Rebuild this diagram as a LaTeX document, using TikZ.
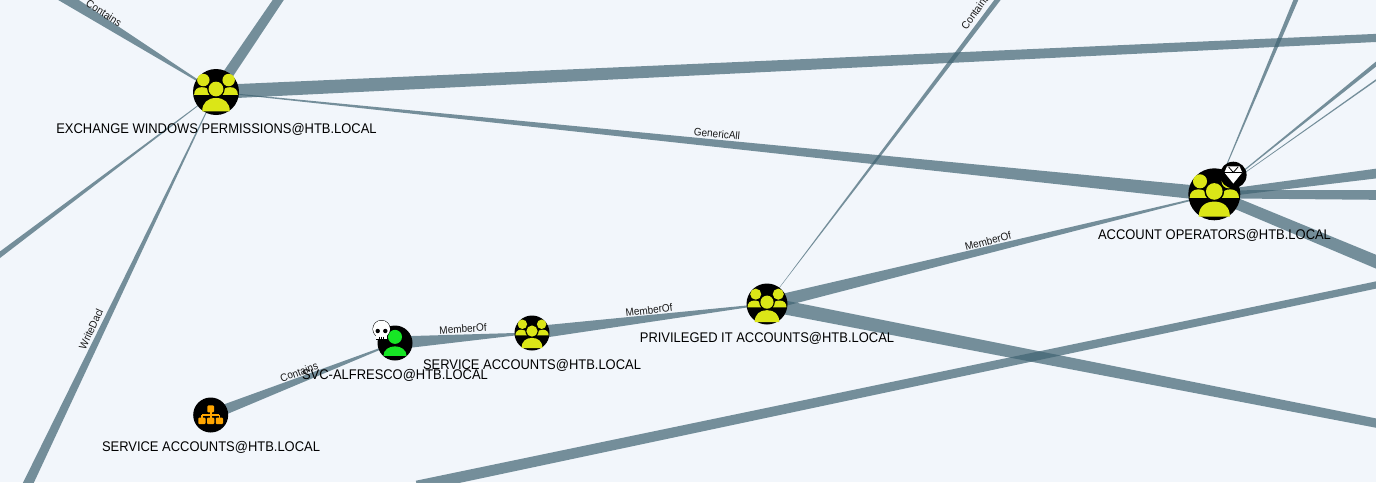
\documentclass[tikz,border=0pt]{standalone}
\usepackage{fontspec}
\setmainfont[FakeStretch=0.925]{Liberation Sans}
\usetikzlibrary{calc}
\definecolor{bgc}{HTML}{F2F6FB}
\definecolor{edgec}{HTML}{416473}
\definecolor{grpy}{HTML}{DBE617}
\definecolor{usrg}{HTML}{17E625}
\definecolor{orgo}{HTML}{FFA500}
\pgfdeclarelayer{edges}
\pgfdeclarelayer{paper}
\pgfsetlayers{paper,edges,main}
\tikzset{
  entity/.style={circle,fill=black,inner sep=0pt,outer sep=0pt,minimum size=#1},
  badge/.style={circle,fill=black,inner sep=0pt,outer sep=0pt,minimum size=#1},
  edgefill/.style={fill=edgec,fill opacity=0.71,draw=none},
  nodelabel/.style={inner sep=0pt,font=\fontsize{14}{16}\selectfont,text=black},
  edgelabel/.style={inner sep=0pt,font=\fontsize{10.8}{12}\selectfont,text=black!90}
}
\newcommand{\taper}[4]{\fill[edgefill] ($(#1)!#3pt!90:(#2)$) -- ($(#1)!#3pt!-90:(#2)$) -- ($(#2)!#4pt!90:(#1)$) -- ($(#2)!#4pt!-90:(#1)$) -- cycle;}
% #1 node, #2 radius, #3 vertical offset of the glyph (in radii)
\newcommand{\groupicon}[3]{%
  \begin{scope}[shift={(#1)},x=#2pt,y=-#2pt,yshift=-#3*#2pt,fill=grpy]
    \fill (-.55,-.68) circle (.27);
    \fill (.55,-.68) circle (.27);
    \fill (-.95,-.04) .. controls (-.95,-.25) and (-.82,-.37) .. (-.62,-.37) .. controls (-.45,-.37) and (-.33,-.3) .. (-.28,-.2) -- (-.28,-.04) -- cycle;
    \fill (.95,-.04) .. controls (.95,-.25) and (.82,-.37) .. (.62,-.37) .. controls (.45,-.37) and (.33,-.3) .. (.28,-.2) -- (.28,-.04) -- cycle;
    \fill[black] (0,-.29) circle (.38);
    \fill (0,-.29) circle (.32);
    \fill (-.6,.68) .. controls (-.6,.3) and (-.35,.10) .. (0,.10) .. controls (.35,.10) and (.6,.3) .. (.6,.68) -- cycle;
  \end{scope}}
\begin{document}
\begin{tikzpicture}[x=1pt,y=-1pt]
\useasboundingbox (0,0) rectangle (1376,482);
% entities
\node[entity=46pt] (ex) at (216,92) {};
\node[entity=52pt] (ao) at (1214.3,194.3) {};
\node[entity=41pt] (pr) at (767,304) {};
\node[entity=35pt] (sa) at (532,333) {};
\node[entity=35pt] (sv) at (395,343) {};
\node[entity=35pt] (ou) at (210.7,415) {};
% free ends
\coordinate (e1) at (53,-10);
\coordinate (e2) at (285,-10);
\coordinate (e3) at (1396,37);
\coordinate (e5) at (-15,266);
\coordinate (e6) at (24,492);
\coordinate (e7) at (1005,-10);
\coordinate (e9) at (1396,427);
\coordinate (e13a) at (417,486.2);
\coordinate (e13b) at (1396,280.8);
\coordinate (e14) at (1396,171);
\coordinate (e15) at (1396,195);
\coordinate (e16) at (1396,270);
\coordinate (e17) at (1300,-10);
\coordinate (e18) at (1396,48);
\coordinate (e19) at (1396,66);
\begin{pgfonlayer}{paper}
  \fill[bgc] (0,0) rectangle (1376,482);
\end{pgfonlayer}
\begin{pgfonlayer}{edges}
  \taper{ex}{e1}{0.3}{6}
  \taper{ex}{e2}{5.5}{4.5}
  \taper{ex}{e3}{7}{4}
  \taper{ex}{ao}{0.3}{7}
  \taper{ex}{e5}{0.2}{2.8}
  \taper{ex}{e6}{0.2}{5}
  \taper{pr}{e7}{0.05}{2.6}
  \taper{pr}{ao}{6.5}{0.5}
  \taper{pr}{e9}{7}{4.5}
  \taper{sa}{pr}{6.5}{0.5}
  \taper{sv}{sa}{6.5}{0.5}
  \taper{ou}{sv}{5.5}{0.5}
  \taper{e13a}{e13b}{5.6}{3.5}
  \taper{ao}{e14}{3.5}{5}
  \taper{ao}{e15}{4}{5}
  \taper{ao}{e16}{5.5}{6.5}
  \taper{ao}{e17}{0.1}{2.4}
  \taper{ao}{e18}{0.2}{2.2}
  \taper{ao}{e19}{0.2}{0.8}
\end{pgfonlayer}
% icons
\groupicon{ex}{23}{.16}
\groupicon{ao}{26}{.18}
\groupicon{pr}{20.5}{.2}
\groupicon{sa}{17.5}{.18}
% user + skull
\begin{scope}[shift={(sv)},x=17.5pt,y=-17.5pt]
  \fill[usrg] (0,-.35) circle (.40);
  \fill[usrg] (-.66,.73) .. controls (-.66,.4) and (-.35,.19) .. (0,.19) .. controls (.35,.19) and (.66,.4) .. (.66,.73) -- cycle;
\end{scope}
\node[badge=18pt] (skull) at (381.5,329) {};
\fill[black] (375.6,333) rectangle (387.4,340);
\fill[white] (381.5,329) circle (8.5);
\fill[white] (376.4,333) rectangle (386.6,339.4);
\fill[black] (377.7,331) circle (2.2);
\fill[black] (385.3,331) circle (2.2);
\draw[black,line width=0.6pt] (379.6,336.5) -- (379.6,339.6) (381.5,336.5) -- (381.5,339.6) (383.4,336.5) -- (383.4,339.6);
% gem badge
\node[badge=26.6pt] (gem) at (1233.3,175) {};
\fill[white] (1227,166.3) -- (1239.6,166.3) -- (1242.2,172.5) -- (1233.3,183.5) -- (1224.4,172.5) -- cycle;
\draw[black,line width=0.8pt] (1224.4,172.6) -- (1242.2,172.6);
\draw[black,line width=0.8pt] (1228.6,167) -- (1233.3,172.4) -- (1238,167);
% org icon
\begin{scope}[shift={(ou)},x=17.5pt,y=-17.5pt]
  \fill[orgo,rounded corners=1pt] (-.19,-.55) rectangle (.19,-.15);
  \fill[orgo] (-.05,-.2) rectangle (.05,0);
  \fill[orgo] (-.5,-.07) rectangle (.5,.03);
  \foreach \px in {-.5,0,.5}{
    \fill[orgo] (\px-.05,0) rectangle (\px+.05,.2);
    \fill[orgo,rounded corners=1pt] (\px-.21,.15) rectangle (\px+.21,.52);
  }
\end{scope}
% node labels
\node[nodelabel] (exl) at (216.5,129.5) {EXCHANGE WINDOWS PERMISSIONS@HTB.LOCAL};
\node[nodelabel] (aol) at (1214.5,235.5) {ACCOUNT OPERATORS@HTB.LOCAL};
\node[nodelabel] (prl) at (767,338.5) {PRIVILEGED IT ACCOUNTS@HTB.LOCAL};
\node[nodelabel] (svl) at (395,375.5) {SVC-ALFRESCO@HTB.LOCAL};
\node[nodelabel] (sal) at (532,365.5) {SERVICE ACCOUNTS@HTB.LOCAL};
\node[nodelabel] (oul) at (211,447.5) {SERVICE ACCOUNTS@HTB.LOCAL};
% edge labels
\node[edgelabel,rotate=-32] (l1) at (104,13) {Contains};
\node[edgelabel,rotate=-5.5] (l2) at (717,134) {GenericAll};
\node[edgelabel,rotate=65] (l3) at (91,329) {WriteDacl};
\node[edgelabel,rotate=54] (l4) at (975,12) {Contains};
\node[edgelabel,rotate=14.5] (l5) at (988,241) {MemberOf};
\node[edgelabel,rotate=7] (l6) at (649,310) {MemberOf};
\node[edgelabel,rotate=4] (l7) at (463,329) {MemberOf};
\node[edgelabel,rotate=20] (l8) at (299,372) {Contains};
\end{tikzpicture}
\end{document}
